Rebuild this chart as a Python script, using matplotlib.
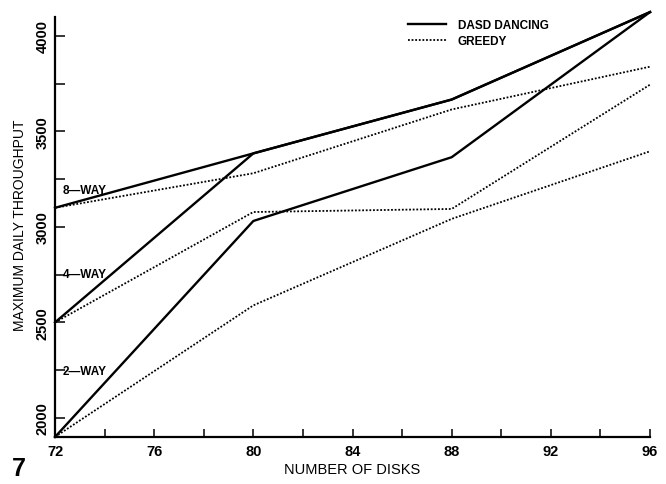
import matplotlib
matplotlib.use("Agg")
import matplotlib.pyplot as plt

# ── Data ────────────────────────────────────────────────────────────────────
disks = [72, 80, 88, 96]

dasd_8way = [3100, 3385, 3667, 4125]
dasd_4way = [2500, 3385, 3667, 4125]
dasd_2way = [1900, 3031, 3365, 4125]

greedy_8way = [3100, 3281, 3615, 3839]
greedy_4way = [2500, 3078, 3094, 3745]
greedy_2way = [1900, 2589, 3042, 3396]

way_labels = ["8\u2014WAY", "4\u2014WAY", "2\u2014WAY"]
way_label_y = [3195, 2755, 2245]

x_ticks = [72, 76, 80, 84, 88, 92, 96]
y_ticks = [2000, 2500, 3000, 3500, 4000]

plt.rcParams["font.family"] = ["Liberation Sans", "DejaVu Sans"]

fig = plt.figure(figsize=(6.66, 4.85), dpi=100)
ax = fig.add_axes([0.0826, 0.097, 0.8934, 0.878])

solid = dict(color="black", lw=1.7, solid_joinstyle="round", clip_on=False)
dotted = dict(color="black", lw=1.3, linestyle=(0, (1, 1)), clip_on=False)

ax.plot(disks, dasd_8way, label="DASD DANCING", **solid)
ax.plot(disks, dasd_4way, **solid)
ax.plot(disks, dasd_2way, **solid)
ax.plot(disks, greedy_8way, label="GREEDY", **dotted)
ax.plot(disks, greedy_4way, **dotted)
ax.plot(disks, greedy_2way, **dotted)

for lab, yy in zip(way_labels, way_label_y):
    ax.text(72.3, yy, lab, fontsize=8.5, fontweight="bold", va="center", ha="left")

ax.set_xlim(72, 96)
ax.set_ylim(1900, 4130)
ax.spines["top"].set_visible(False)
ax.spines["right"].set_visible(False)
ax.spines["left"].set_linewidth(1.6)
ax.spines["bottom"].set_linewidth(1.6)
ax.spines["left"].set_bounds(1900, 4100)

ax.set_xticks(x_ticks)
ax.set_xticks(range(72, 97, 2), minor=True)
ax.set_yticks(y_ticks)
ax.set_yticks(range(2000, 4001, 250), minor=True)
ax.tick_params(which="both", direction="in", width=1.1, color="black")
ax.tick_params(axis="x", which="both", length=6)
ax.tick_params(axis="y", which="both", length=7)
ax.tick_params(axis="x", labelsize=10.5, pad=5)
ax.tick_params(axis="y", labelsize=10.5, pad=4)
for t in ax.get_xticklabels():
    t.set_fontweight("bold")
for t in ax.get_yticklabels():
    t.set_fontweight("bold")
    t.set_rotation(90)
    t.set_va("center")

ax.set_xlabel("NUMBER OF DISKS", fontsize=10.5, labelpad=3)
ax.set_ylabel("MAXIMUM DAILY THROUGHPUT", fontsize=10, labelpad=6)

leg = ax.legend(loc="upper left", bbox_to_anchor=(0.58, 1.0), frameon=False,
                fontsize=8.5, handlelength=3.2, handletextpad=1.0,
                labelspacing=0.3, borderaxespad=0.3)
for t in leg.get_texts():
    t.set_fontweight("bold")

fig.text(0.018, 0.018, "7", fontsize=18, fontweight="bold")

fig.savefig("out.png", dpi=100)
